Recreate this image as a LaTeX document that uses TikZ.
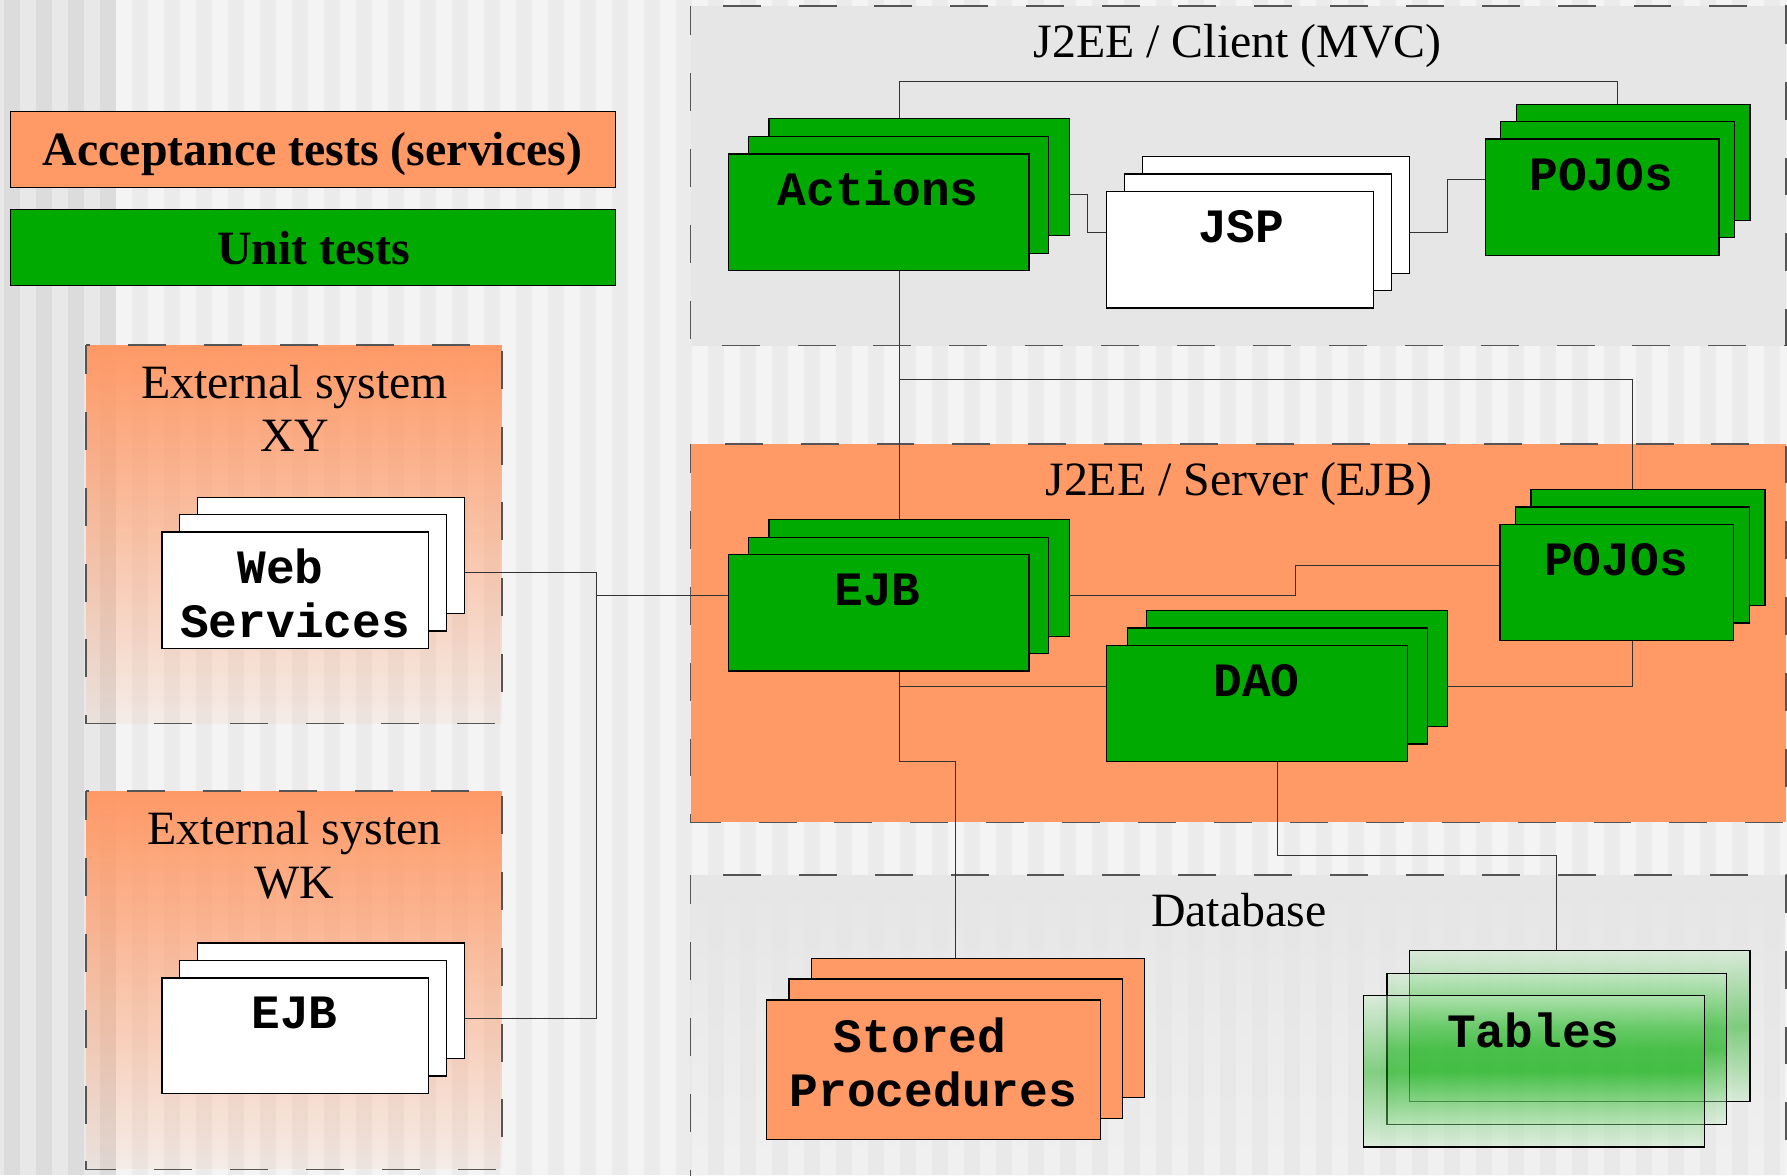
\documentclass[tikz,border=0pt]{standalone}
\usepackage{fontspec}
\setmainfont{Liberation Serif}
\newfontfamily\monofam{Liberation Mono}
\usetikzlibrary{fit,fadings}
\definecolor{ored}{HTML}{FF9966}
\definecolor{ogreen}{HTML}{00AA00}
\definecolor{cgray}{HTML}{E6E6E6}
\definecolor{stA}{HTML}{EBEBEB}
\definecolor{stB}{HTML}{F4F4F4}
\definecolor{stAd}{HTML}{DCDCDC}
\definecolor{stBd}{HTML}{E8E8E8}
\definecolor{dashc}{HTML}{555555}
\definecolor{connc}{HTML}{333333}
\tikzfading[name=fadeext, top color=transparent!0, bottom color=transparent!92]
\tikzfading[name=fadedb, top color=transparent!0, bottom color=transparent!100]
\tikzset{
  bx/.style={draw=black, line width=1.1pt, inner sep=0pt},
  gbox/.style={bx, fill=ogreen},
  wbox/.style={bx, fill=white},
  obox/.style={bx, fill=ored},
  tbox/.style={bx},
  tshade/.style={opacity=0.45, top color=ogreen!22, bottom color=ogreen!22, middle color=ogreen},
  conn/.style={draw=connc, line width=1pt},
  ctr/.style={draw=dashc, line width=1.4pt, dash pattern=on 33.3pt off 33.3pt, dash phase=8pt},
  ttl/.style={anchor=base, inner sep=0pt, font=\fontsize{42}{47}\selectfont},
  ttlb/.style={anchor=base, inner sep=0pt, font=\fontsize{42}{47}\selectfont\bfseries},
  lbl/.style={anchor=base, inner sep=0pt, yshift=-2.5pt, font=\monofam\bfseries\fontsize{42}{47}\selectfont},
}
\begin{document}
\begin{tikzpicture}[x=1pt,y=-1pt]
\useasboundingbox (0,0) rectangle (1568,1031);
\clip (0,0) rectangle (1568,1031);
% background stripes
\fill[stB] (0,0) rectangle (1568,1031);
\fill[stBd] (0,0) rectangle (101.8,1031);
\foreach \k in {0,...,55}{
  \ifnum\k<4
    \fill[stAd] ({(4+32*\k)*0.877455},0) rectangle ++(14.04,1031);
  \else
    \fill[stA] ({(4+32*\k)*0.877455},0) rectangle ++(14.04,1031);
  \fi
}
% containers
\fill[ored, path fading=fadeext] (75.6,302.7) rectangle (440.3,635);
\draw[ctr] (75.6,302.7) rectangle (440.3,635);
\fill[ored, path fading=fadeext] (75.6,694.1) rectangle (440.3,1026);
\draw[ctr] (75.6,694.1) rectangle (440.3,1026);
\fill[cgray] (606,5.5) rectangle (1567,303.3);
\draw[ctr] (606,5.5) rectangle (1567,303.3);
\fill[ored] (606,389.6) rectangle (1567,721.6);
\draw[ctr] (606,389.6) rectangle (1567,721.6);
\fill[cgray, path fading=fadedb] (606,767.8) rectangle (1567,1099);
\draw[ctr] (606,767.8) rectangle (1567,1099);
% legend
\node[obox, fit={(9.4,98) (540.2,164.4)}] (acc) {};
\node[gbox, fit={(9.4,184) (540.2,250.7)}] (unit) {};
\node[ttlb] (accT) at (274.2,144.8) {Acceptance tests (services)};
\node[ttlb] (unitT) at (275.2,231.7) {Unit tests};
% container titles
\node[ttl] (clientT) at (1086,50.3) {J2EE / Client (MVC)};
\node[ttl] (serverT) at (1087,435.2) {J2EE / Server (EJB)};
\node[ttl] (dbT) at (1087,812.6) {Database};
\node[ttl] (xyT1) at (258.5,349.5) {External system};
\node[ttl] (xyT2) at (258.5,396.3) {XY};
\node[ttl] (wkT1) at (258.5,740.6) {External systen};
\node[ttl] (wkT2) at (258.5,788.3) {WK};
% stacked boxes
\node[gbox, fit={(674.8,104.1) (938.2,206.5)}] (actB) {};
\node[gbox, fit={(656.8,119.6) (920.2,222.3)}] (actM) {};
\node[gbox, fit={(639.4,135.1) (902.9,237.2)}] (actF) {};
\node[wbox, fit={(1002.6,137.5) (1236.9,239.8)}] (jspB) {};
\node[wbox, fit={(986.6,152.7) (1220.8,254.8)}] (jspM) {};
\node[wbox, fit={(971,168.2) (1205.3,270.3)}] (jspF) {};
\node[gbox, fit={(1330.4,91.6) (1535.6,193.4)}] (pojcB) {};
\node[gbox, fit={(1316.8,106.5) (1521.9,208.3)}] (pojcM) {};
\node[gbox, fit={(1303.2,122) (1508.3,224.3)}] (pojcF) {};
\node[gbox, fit={(674.8,456) (938.2,558.4)}] (ejbB) {};
\node[gbox, fit={(656.8,471.5) (920.2,573.3)}] (ejbM) {};
\node[gbox, fit={(639.4,486.7) (902.9,588.8)}] (ejbF) {};
\node[gbox, fit={(1343.4,429.4) (1548.6,531.2)}] (pojsB) {};
\node[gbox, fit={(1329.8,444.9) (1534.9,546.7)}] (pojsM) {};
\node[gbox, fit={(1316.2,460.1) (1521.3,561.9)}] (pojsF) {};
\node[gbox, fit={(1006.3,535.6) (1269.8,637.7)}] (daoB) {};
\node[gbox, fit={(989,551.1) (1252.4,652.9)}] (daoM) {};
\node[gbox, fit={(971,566.3) (1235,668.4)}] (daoF) {};
\node[obox, fit={(712,840.7) (1004.5,962.9)}] (spB) {};
\node[obox, fit={(692.2,859.1) (984.6,981.3)}] (spM) {};
\node[obox, fit={(672.3,877.5) (965.4,999.7)}] (spF) {};
\node[wbox, fit={(173.1,436.4) (407.4,538.2)}] (wsB) {};
\node[wbox, fit={(157.5,451.3) (391.7,553.7)}] (wsM) {};
\node[wbox, fit={(142.2,466.8) (376.1,568.9)}] (wsF) {};
\node[wbox, fit={(173.1,827.5) (407.4,929)}] (wkB) {};
\node[wbox, fit={(157.5,843) (391.7,944.2)}] (wkM) {};
\node[wbox, fit={(142.2,858.2) (376.1,959.7)}] (wkF) {};
% tables (translucent)
\shade[tshade] (1236.8,833.9) rectangle (1535.6,966.7);
\node[tbox, fit={(1236.8,833.9) (1535.6,966.7)}] (tabB) {};
\shade[tshade] (1217,854.1) rectangle (1515.1,986.6);
\node[tbox, fit={(1217,854.1) (1515.1,986.6)}] (tabM) {};
\shade[tshade] (1196.5,873.7) rectangle (1495.3,1006.5);
\node[tbox, fit={(1196.5,873.7) (1495.3,1006.5)}] (tabF) {};
% labels
\node[lbl] (actT) at (770.5,177.6) {Actions};
\node[lbl] (jspT) at (1089,210) {JSP};
\node[lbl] (pojcT) at (1405,164.7) {POJOs};
\node[lbl] (ejbT) at (770,528.9) {EJB};
\node[lbl] (pojsT) at (1418,502.5) {POJOs};
\node[lbl] (daoT) at (1102.6,608.4) {DAO};
\node[lbl] (spT1) at (807.3,920.8) {Stored};
\node[lbl] (spT2) at (819,968.2) {Procedures};
\node[lbl] (tabT) at (1345.5,917) {Tables};
\node[lbl] (wsT1) at (246.2,509.5) {Web};
\node[lbl] (wsT2) at (258.9,557.2) {Services};
\node[lbl] (wkejbT) at (258.5,900) {EJB};
% connector coordinates
\coordinate (c1) at (523.3,502.2);
\coordinate (c2) at (523.3,893.6);
\coordinate (c3) at (523.3,522.7);
\coordinate (k1) at (954,170.3);
\coordinate (k2) at (954,204);
\coordinate (k3) at (1270,204);
\coordinate (k4) at (1270,157.7);
\coordinate (k5) at (789,71.4);
\coordinate (k6) at (1419,71.4);
\coordinate (k7) at (789,333.2);
\coordinate (k8) at (1432.7,333.2);
\coordinate (s1) at (1137,522.2);
\coordinate (s2) at (1137,496.1);
\coordinate (s3) at (789,602);
\coordinate (s4) at (789,668.4);
\coordinate (s5) at (838.4,668.4);
\coordinate (s6) at (1432.7,602);
\coordinate (t1) at (1120.7,751);
\coordinate (t2) at (1366,751);
% connectors
\draw[conn] (wsB.east |- c1) -- (c1) -- (c2) -- (wkB.east |- c2);
\draw[conn] (c3) -- (ejbF.west |- c3);
\draw[conn] (actB.east |- k1) -- (k1) -- (k2) -- (jspF.west |- k2);
\draw[conn] (jspB.east |- k3) -- (k3) -- (k4) -- (pojcF.west |- k4);
\draw[conn] (actB.north -| k5) -- (k5) -- (k6) -- (pojcB.north -| k6);
\draw[conn] (actF.south -| k5) -- (ejbB.north -| k5);
\draw[conn] (k7) -- (k8) -- (pojsB.north -| k8);
\draw[conn] (ejbB.east |- s1) -- (s1) -- (s2) -- (pojsF.west |- s2);
\draw[conn] (ejbF.south -| s3) -- (s3) -- (daoF.west |- s3);
\draw[conn] (s3) -- (s4) -- (s5) -- (spB.north -| s5);
\draw[conn] (daoB.east |- s6) -- (s6) -- (pojsF.south -| s6);
\draw[conn] (daoF.south -| t1) -- (t1) -- (t2) -- (tabB.north -| t2);
\end{tikzpicture}
\end{document}
